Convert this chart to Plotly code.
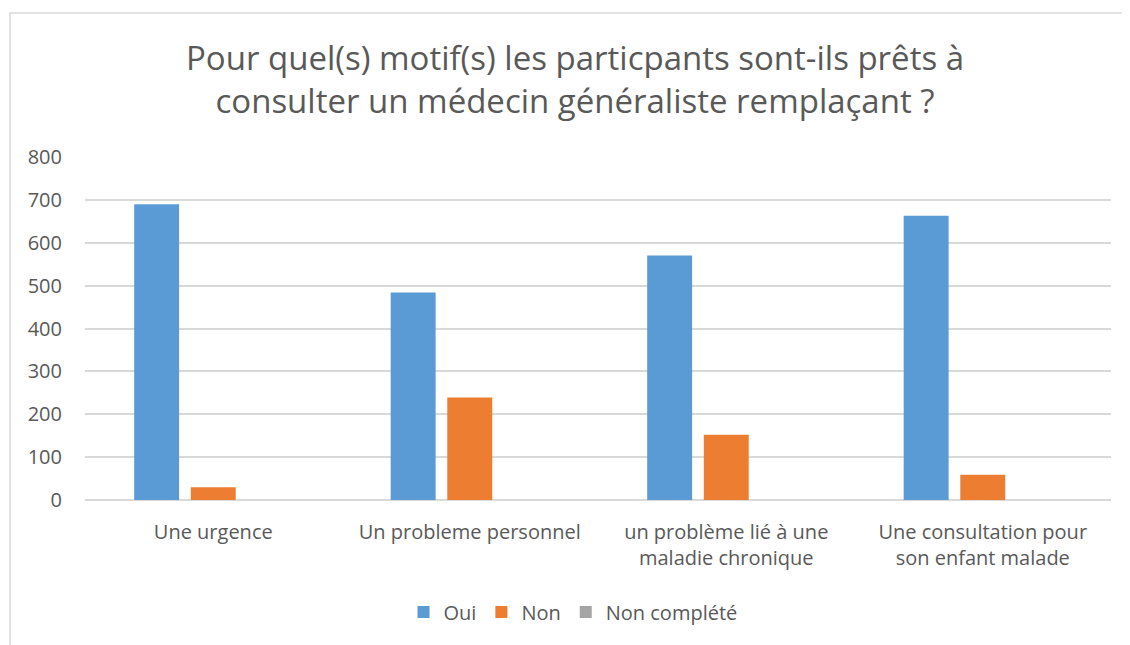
import plotly.graph_objects as go

# ── DONNÉES ───────────────────────────────────────────────────────────────────
categories = [
    'Une urgence',
    'Un probleme personnel',
    'un problème lié à une<br>maladie chronique',
    'Une consultation pour<br>son enfant malade',
]
oui = [690, 484, 570, 663]
non = [30, 239, 152, 59]
non_complete = [0, 0, 0, 0]
y_ticks = [0, 100, 200, 300, 400, 500, 600, 700, 800]

TITLE = ('Pour quel(s) motif(s) les particpants sont-ils prêts à<br>'
         'consulter un médecin généraliste remplaçant ?')

BLUE = '#5b9bd5'
ORANGE = '#ed7d31'
GREY = '#a5a5a5'
TXT = '#595959'
FONT = 'Open Sans'

W, H = 1130, 645
L, R, T, B = 77, 27, 149, 153          # zone de tracé en pixels
PW, PH = W - L - R, H - T - B


def px_x(x):
    """pixel -> coordonnée paper (x)"""
    return (x - L) / PW


def px_y(y):
    """pixel -> coordonnée paper (y)"""
    return (H - B - y) / PH


fig = go.Figure()
for name, vals, col in [('Oui', oui, BLUE), ('Non', non, ORANGE),
                        ('Non complété', non_complete, GREY)]:
    fig.add_trace(go.Bar(x=categories, y=vals, name=name,
                         marker=dict(color=col, line=dict(width=0))))

fig.update_layout(
    width=W, height=H,
    margin=dict(l=L, r=R, t=T, b=B, autoexpand=False),
    paper_bgcolor='white', plot_bgcolor='white',
    font=dict(family=FONT, color=TXT, size=20),
    barmode='group', bargap=0.338, bargroupgap=0.206,
    title=dict(text=TITLE, x=567 / W, xanchor='center',
               y=1 - 62 / H, yanchor='middle',
               font=dict(family=FONT, size=33, color=TXT)),
    legend=dict(orientation='h', x=px_x(565), xanchor='center',
                y=px_y(604), yanchor='middle',
                font=dict(size=20, color=TXT), traceorder='normal'),
    showlegend=True,
)

fig.update_xaxes(showgrid=False, showline=False, automargin=False,
                 ticks='', ticklabelstandoff=18,
                 tickfont=dict(size=20, color=TXT))
fig.update_yaxes(range=[0, 800], tickvals=y_ticks, automargin=False,
                 showgrid=True, gridcolor='#d9d9d9', gridwidth=1.5,
                 zeroline=True, zerolinecolor='#d9d9d9', zerolinewidth=1.5,
                 showline=False, ticks='', ticklabelstandoff=22,
                 tickfont=dict(size=20, color=TXT))

# cadre du graphique
fig.add_shape(type='rect', xref='paper', yref='paper',
              x0=px_x(2), x1=px_x(W + 10), y0=px_y(H + 10), y1=px_y(5),
              line=dict(color='#d9d9d9', width=1.5), layer='below')

fig.write_html('out.html')
